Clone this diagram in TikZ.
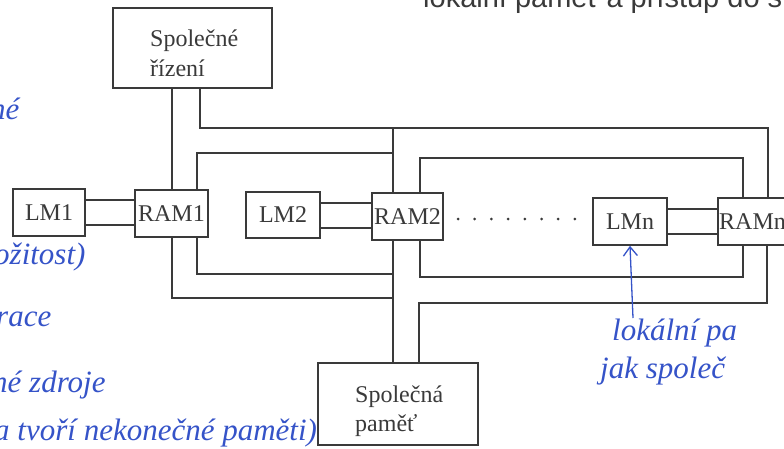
\documentclass[tikz,border=0pt]{standalone}
\usepackage{fontspec}
\setmainfont{Liberation Serif}
\newfontfamily\topfont{Liberation Sans}
\usetikzlibrary{arrows.meta}
\definecolor{ink}{HTML}{3A3A3A}
\definecolor{pen}{HTML}{3553C8}
\begin{document}
\begin{tikzpicture}[x=1pt,y=-1pt,
  box/.style={draw=ink,line width=1.6pt,inner sep=0pt,fill=white},
  lbl/.style={inner sep=0pt,text=ink,font=\fontsize{24}{26}\selectfont},
  wire/.style={draw=ink,line width=1.4pt},
  hand/.style={inner sep=0pt,text=pen,font=\itshape\fontsize{31}{33}\selectfont,anchor=base west}]
\useasboundingbox (0,0) rectangle (784,449);
\clip (0,0) rectangle (784,449);
% cut-off printed line at the top
\node[inner sep=0pt,anchor=base west,text=ink,font=\topfont\fontsize{29}{31}\selectfont] (toptxt) at (423,8) {lokální paměť a přístup do s};
% boxes
\node[box,minimum width=159pt,minimum height=80pt] (rizeni) at (192.5,48) {};
\node[lbl,anchor=base west] (rz1) at (150,47) {Společné};
\node[lbl,anchor=base west] (rz2) at (150,77) {řízení};
\node[box,minimum width=160pt,minimum height=82pt] (pamet) at (398,404) {};
\node[lbl,anchor=base west] (pm1) at (355,402) {Společná};
\node[lbl,anchor=base west] (pm2) at (355,431) {paměť};
\node[box,minimum width=72pt,minimum height=47pt] (lm1) at (49,212.5) {};
\node[lbl] (lm1t) at (lm1.center) {LM1};
\node[box,minimum width=73pt,minimum height=47pt] (ram1) at (171.5,213.5) {};
\node[lbl] (ram1t) at (ram1.center) {RAM1};
\node[box,minimum width=74pt,minimum height=46pt] (lm2) at (283,215) {};
\node[lbl] (lm2t) at (lm2.center) {LM2};
\node[box,minimum width=71pt,minimum height=47pt] (ram2) at (407.5,216.5) {};
\node[lbl] (ram2t) at (ram2.center) {RAM2};
\node[box,minimum width=74pt,minimum height=47pt] (lmn) at (630,221.5) {};
\node[lbl] (lmnt) at (lmn.center) {LMn};
\node[box,minimum width=80pt,minimum height=47pt] (ramn) at (758,221.5) {};
\node[lbl,anchor=west] (ramnt) at (719,221.5) {RAMn};
% control bus
\draw[wire] (rizeni.south -| 172,0) -- (ram1.north -| 172,0);
\draw[wire] (rizeni.south -| 200,0) -- (200,128) -- (768,128) -- (ramn.north -| 768,0);
\coordinate (cb) at (393,128);
\draw[wire] (cb) -- (ram2.north -| 393,0);
% ring 1
\draw[wire] (ram1.north -| 197,0) -- (197,153) -- (393,153);
\draw[wire] (ram1.south -| 197,0) -- (197,274) -- (393,274);
% memory bus
\draw[wire] (ram2.south -| 393,0) -- (pamet.north -| 393,0);
\draw[wire] (ram1.south -| 172,0) -- (172,298) -- (393,298);
\draw[wire] (pamet.north -| 419,0) -- (419,303) -- (767,303) -- (ramn.south -| 767,0);
% ring 2
\draw[wire] (ram2.north -| 420,0) -- (420,158) -- (743,158) -- (ramn.north -| 743,0);
\draw[wire] (ram2.south -| 420,0) -- (420,277) -- (743,277) -- (ramn.south -| 743,0);
% double links
\draw[wire] (lm1.east |- 0,200) -- (ram1.west |- 0,200);
\draw[wire] (lm1.east |- 0,225) -- (ram1.west |- 0,225);
\draw[wire] (lm2.east |- 0,203) -- (ram2.west |- 0,203);
\draw[wire] (lm2.east |- 0,228) -- (ram2.west |- 0,228);
\draw[wire] (lmn.east |- 0,209) -- (ramn.west |- 0,209);
\draw[wire] (lmn.east |- 0,234) -- (ramn.west |- 0,234);
% dots
\foreach \i in {0,...,7} \fill[ink] (458+\i*16.7,219) circle (1.5pt);
% handwritten notes
\coordinate (arrowfoot) at (633,318);
\draw[pen,line width=1.3pt,-{Straight Barb[length=9pt,width=14pt]}] (arrowfoot) -- (lmn.south);
\node[hand] (h1) at (612,340) {lokální pa};
\node[hand] (h2) at (600,378) {jak společ};
\node[hand] (h3) at (-10,120) {né};
\node[hand] (h4) at (-6,264) {ožitost)};
\node[hand] (h5) at (-4,326) {race};
\node[hand] (h6) at (-8,392) {né zdroje};
\node[hand] (h7) at (-6,440) {a tvoří nekonečné paměti)};
\end{tikzpicture}
\end{document}
